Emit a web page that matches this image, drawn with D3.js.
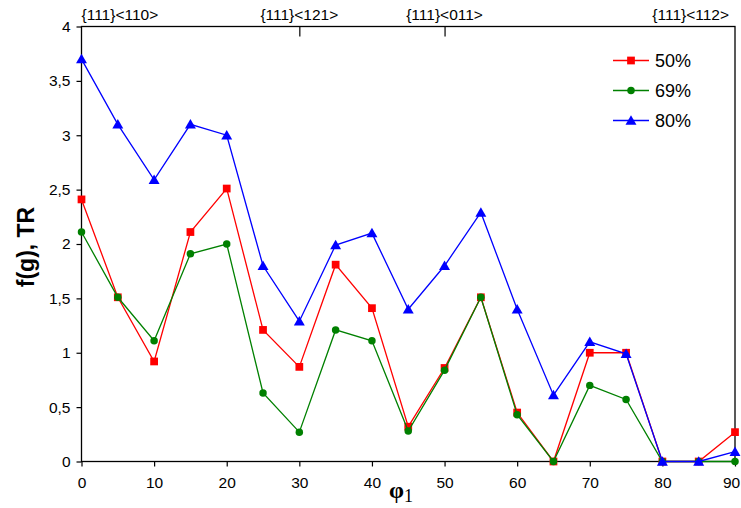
<!DOCTYPE html>
<html>
<head>
<meta charset="utf-8">
<script src="https://cdn.jsdelivr.net/npm/d3@7"></script>
<style>
  body { margin: 0; background: #fff; }
  svg { display: block; }
  text { font-family: Arial, "Liberation Sans", sans-serif; }
</style>
</head>
<body>
<div id="main"></div>
<script>
// angle phi1 (deg)
var phi = [0, 5, 10, 15, 20, 25, 30, 35, 40, 45, 50, 55, 60, 65, 70, 75, 80, 85, 90];

var s50 = [2.41, 1.51, 0.92, 2.11, 2.51, 1.21, 0.87, 1.81, 1.41, 0.32, 0.86, 1.51, 0.45, 0, 1.0, 1.0, 0, 0, 0.27];
var s69 = [2.11, 1.51, 1.11, 1.91, 2.0, 0.63, 0.27, 1.21, 1.11, 0.28, 0.84, 1.51, 0.43, 0, 0.7, 0.57, 0, 0, 0];
var s80 = [3.7, 3.1, 2.59, 3.1, 3.0, 1.8, 1.29, 1.99, 2.1, 1.4, 1.8, 2.29, 1.4, 0.61, 1.1, 0.99, 0, 0, 0.09];

var seriesNames = ['50%', '69%', '80%'];
var xTicks = [0, 10, 20, 30, 40, 50, 60, 70, 80, 90];
var yTicks = [0, 0.5, 1, 1.5, 2, 2.5, 3, 3.5, 4];
var topLabels = ['{111}<110>', '{111}<121>', '{111}<011>', '{111}<112>'];
var topPos = [0, 30, 50, 90];
var topTickPos = [30, 50];

var W = 741, H = 508;
var margin = {top: 26.5, right: 6, bottom: 46.5, left: 81.5};
var width = W - margin.left - margin.right,
    height = H - margin.top - margin.bottom;

var colors = {'50%': '#ff0000', '69%': '#008000', '80%': '#0000ff'};
var symbols = {'50%': d3.symbolSquare, '69%': d3.symbolCircle, '80%': d3.symbolTriangle};
var symSize = {'50%': 60, '69%': 44, '80%': 52};

var series = [
    {name: '50%', values: s50},
    {name: '69%', values: s69},
    {name: '80%', values: s80}
];

var svg = d3.select('#main').append('svg')
    .attr('width', W)
    .attr('height', H)
    .append('g')
    .attr('transform', 'translate(' + margin.left + ',' + margin.top + ')');

var x = d3.scaleLinear().domain([0, 90]).range([0, width]);
var y = d3.scaleLinear().domain([0, 4]).range([height, 0]);

var fmt = d => String(d).replace('.', ',');

// frame
svg.append('rect')
    .attr('width', width)
    .attr('height', height)
    .attr('fill', 'none')
    .attr('stroke', '#000')
    .attr('stroke-width', 1.3);

var xAxis = svg.append('g')
    .attr('transform', 'translate(0,' + height + ')')
    .call(d3.axisBottom(x).tickValues(xTicks).tickSize(5).tickPadding(10).tickFormat(d => d));
var yAxis = svg.append('g')
    .call(d3.axisLeft(y).tickValues(yTicks).tickSize(5).tickPadding(6).tickFormat(fmt));
var topAxis = svg.append('g')
    .call(d3.axisBottom(x).tickValues(topTickPos).tickSize(10).tickFormat(''));

[xAxis, yAxis, topAxis].forEach(function(a){
    a.select('.domain').remove();
    a.selectAll('.tick line').attr('stroke', '#000').attr('stroke-width', 1.2);
    a.selectAll('.tick text')
        .attr('fill', '#000')
        .style('font-size', '15.5px')
        .style('font-family', 'Arial, "Liberation Sans", sans-serif');
});
// keep last x label inside the window
xAxis.selectAll('.tick text').filter(d => d == 90).attr('dx', -4);

// orientation labels along top
svg.selectAll('.toplab')
    .data(topLabels)
    .enter()
    .append('text')
    .attr('class', 'toplab')
    .attr('x', (d, i) => x(topPos[i]) + (i == 3 ? -6 : 0))
    .attr('y', -7)
    .attr('text-anchor', (d, i) => i == 0 ? 'start' : i == 3 ? 'end' : 'middle')
    .style('font-size', '15.5px')
    .attr('fill', '#000')
    .text(d => d);

var line = d3.line()
    .x((d, i) => x(phi[i]))
    .y(d => y(d));

series.forEach(function(s){
    var g = svg.append('g').attr('class', 'series');
    g.append('path')
        .datum(s.values)
        .attr('d', line)
        .attr('fill', 'none')
        .attr('stroke', colors[s.name])
        .attr('stroke-width', 1.3);
    g.selectAll('path.pt')
        .data(s.values)
        .enter()
        .append('path')
        .attr('class', 'pt')
        .attr('transform', (d, i) => 'translate(' + x(phi[i]) + ',' + (y(d) + (s.name == '80%' ? 1 : 0)) + ')')
        .attr('d', d3.symbol().type(symbols[s.name]).size(symSize[s.name]))
        .attr('fill', colors[s.name]);
});

// legend
var legend = svg.append('g')
    .attr('transform', 'translate(' + (613 - margin.left) + ',' + (60.5 - margin.top) + ')');
var items = legend.selectAll('g')
    .data(seriesNames)
    .enter()
    .append('g')
    .attr('transform', (d, i) => 'translate(0,' + i * 30 + ')');
items.append('line')
    .attr('x1', 0).attr('x2', 36)
    .attr('stroke', d => colors[d])
    .attr('stroke-width', 1.3);
items.append('path')
    .attr('transform', d => 'translate(18,' + (d == '80%' ? 1 : 0) + ')')
    .attr('d', d => d3.symbol().type(symbols[d]).size(symSize[d])())
    .attr('fill', d => colors[d]);
items.append('text')
    .attr('x', 42)
    .attr('y', 6.5)
    .style('font-size', '18px')
    .attr('fill', '#000')
    .text(d => d);

// axis titles
svg.append('text')
    .attr('transform', 'translate(' + (34 - margin.left) + ',' + (247 - margin.top) + ') rotate(-90)')
    .attr('text-anchor', 'middle')
    .style('font-size', '23px')
    .style('font-weight', 'bold')
    .attr('fill', '#000')
    .text('f(g), TR');

var xt = svg.append('text')
    .attr('x', 389 - margin.left)
    .attr('y', 498 - margin.top)
    .style('font-family', '"Liberation Serif", "Times New Roman", serif')
    .attr('fill', '#000');
xt.append('tspan')
    .style('font-size', '24px')
    .style('font-weight', 'bold')
    .text('φ');
xt.append('tspan')
    .attr('dy', 4)
    .style('font-size', '18px')
    .text('1');
</script>
</body>
</html>
